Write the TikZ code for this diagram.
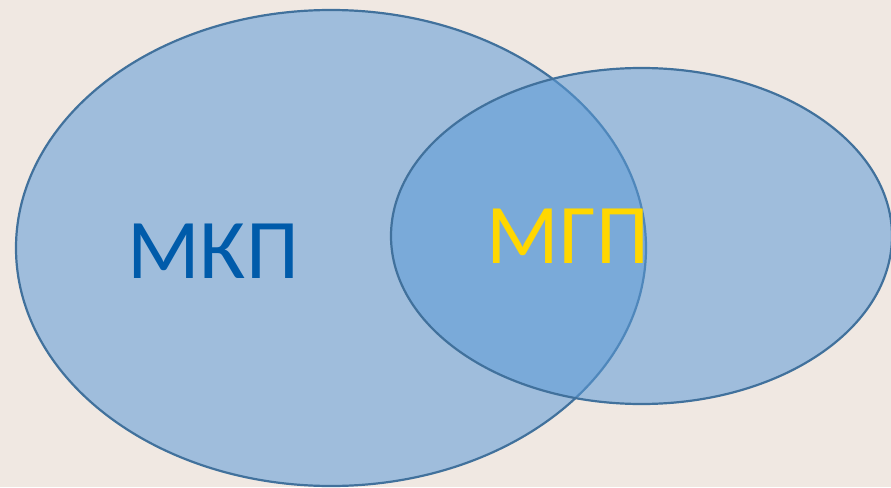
\documentclass[tikz,border=0pt]{standalone}
\usepackage{fontspec}
\setmainfont{Carlito}
\usetikzlibrary{shapes.geometric}
\definecolor{paper}{RGB}{240,232,226}
\definecolor{setfill}{RGB}{91,154,215}
\definecolor{setline}{RGB}{65,113,156}
\definecolor{mkpblue}{RGB}{0,91,170}
\definecolor{mgpyellow}{RGB}{255,215,0}

\begin{document}
\begin{tikzpicture}[x=1pt, y=-1pt]
                \tikzstyle{set}=[draw=setline, ellipse, line width=2.2pt, fill=setfill, fill opacity=0.54, draw opacity=1, inner sep=0pt, outer sep=0pt]
                \tikzstyle{label}=[inner sep=0pt, font=\fontsize{85}{102}\selectfont]
                
                \fill[paper] (0,0) rectangle (891,487);
                \useasboundingbox (0,0) rectangle (891,487);
                
                \node[set, minimum width=630pt, minimum height=476pt] (mkp) at (331,248) {};
                \node[set, minimum width=501pt, minimum height=336pt] (mgp) at (641.5,236) {};
                
                \node[label, text=mkpblue] (mkptext) at (213,251) {МКП};
                \node[label, text=mgpyellow] (mgptext) at (568,236.5) {МГП};
            \end{tikzpicture}
\end{document}
